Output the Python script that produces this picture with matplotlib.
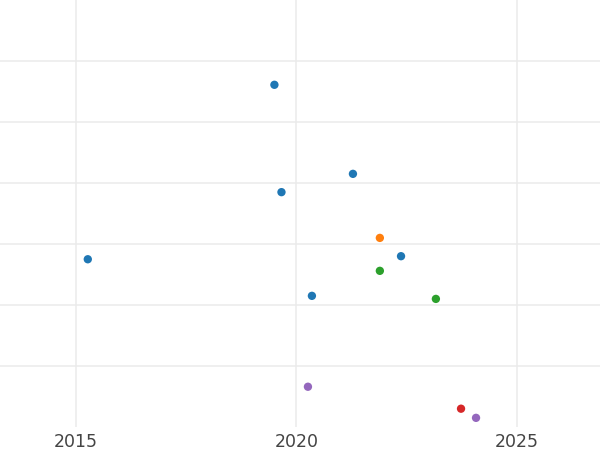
import matplotlib
matplotlib.use('Agg')
from matplotlib import pyplot as plt

# Release year and score, one list pair per group
blue_year = [2019.5, 2021.28, 2019.66, 2015.27, 2022.37, 2020.35]
blue_score = [5.61, 4.15, 3.85, 2.75, 2.80, 2.15]
orange_year = [2021.89]
orange_score = [3.10]
green_year = [2021.89, 2023.16]
green_score = [2.56, 2.10]
red_year = [2023.73]
red_score = [0.30]
purple_year = [2020.26, 2024.07]
purple_score = [0.66, 0.15]

x_ticks = [2015, 2020, 2025]
y_grid = [1, 2, 3, 4, 5, 6]

groups = [
    (blue_year, blue_score, '#1f77b4'),
    (orange_year, orange_score, '#ff7f0e'),
    (green_year, green_score, '#2ca02c'),
    (red_year, red_score, '#d62728'),
    (purple_year, purple_score, '#9467bd'),
]

fig = plt.figure(figsize=(6, 4.5), dpi=100)
ax = fig.add_axes([0, 1 - 427 / 450, 1, 427 / 450])

for xs, ys, c in groups:
    ax.scatter(xs, ys, s=36, color=c, edgecolors='none', zorder=3)

ax.set_xlim(2013.28, 2026.88)
ax.set_ylim(0, 7)
ax.set_xticks(x_ticks)
ax.set_xticklabels([str(t) for t in x_ticks])
ax.set_yticks(y_grid)
ax.set_yticklabels([])
ax.tick_params(axis='both', length=0)
ax.tick_params(axis='x', pad=4.5, labelsize=12.5, labelcolor='#444444')
ax.grid(True, color='#ebebeb', linewidth=1.1)
ax.set_axisbelow(True)
for s in ax.spines.values():
    s.set_visible(False)

fig.savefig('out.png', dpi=100)
